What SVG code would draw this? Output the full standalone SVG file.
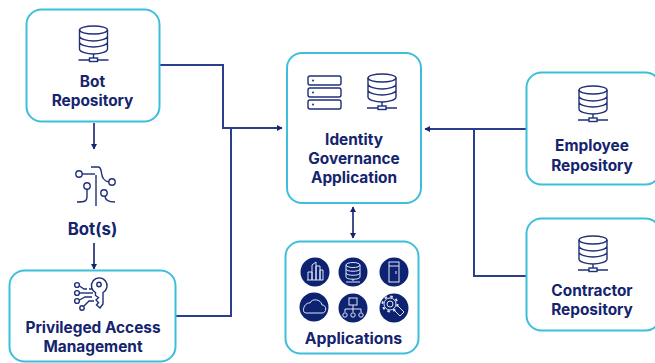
<svg xmlns="http://www.w3.org/2000/svg" xmlns:xlink="http://www.w3.org/1999/xlink" width="655" height="363" viewBox="0 0 655 363">
<style>
.box{fill:#fff;stroke:#3dbfdc;stroke-width:2}
.c{fill:none;stroke:#2c3f8f;stroke-width:2}
.d{fill:none;stroke:#14246e;stroke-width:1.6}
.t{font-family:"Inter","Liberation Sans",sans-serif;font-weight:700;font-size:15.4px;fill:#14246e;text-anchor:middle}
.i{fill:none;stroke:#1f2f78;stroke-width:1.4}
.w{fill:none;stroke:#dfe6f5;stroke-width:1}
.o{fill:#0d2270}
</style>
<defs>
<marker id="a" markerWidth="6" markerHeight="6" refX="5" refY="3" orient="auto-start-reverse" markerUnits="userSpaceOnUse"><path d="M0 0L5.500 3L0 6z" fill="#14246e"/></marker>
<g id="db">
<ellipse cx="0" cy="-13" rx="14" ry="4" class="i"/>
<path class="i" d="M-14-13V6C-14 9-6 11 0 11S14 9 14 6V-13M-14-7C-14-4-6-2 0-2S14-4 14-7M-14-1C-14 2-6 4 0 4S14 2 14-1M0 11V15M-15 17H-4M4 17H15"/>
<rect x="-4" y="15" width="8" height="3.500" class="i"/>
</g>
</defs>
<rect width="655" height="363" fill="#fff"/>
<g id="connectors">
<path class="c" d="M160 65H223V128H282" marker-end="url(#a)"/>
<path class="c" d="M176 316H231V128"/>
<path class="d" d="M94 123V149" marker-end="url(#a)"/>
<path class="d" d="M94 243V269" marker-end="url(#a)"/>
<path class="c" d="M526 129H425" marker-end="url(#a)"/>
<path class="c" d="M474 129V276H526"/>
<path class="d" d="M353 207V238" marker-start="url(#a)" marker-end="url(#a)"/>
</g>
<g id="bot-repo">
<rect class="box" x="26.500" y="9.500" width="133" height="112" rx="15"/>
<use xlink:href="#db" href="#db" x="93.500" y="43"/>
<text class="t" x="92.500" y="87">Bot</text>
<text class="t" x="92.500" y="106">Repository</text>
</g>
<g id="bots">
<g class="i">
<circle cx="79" cy="174" r="3.200"/><path d="M82 174H95"/>
<path d="M91 167H98C101 167 101 170 101.500 173C102 178 104 181 109 182"/>
<circle cx="112" cy="182" r="3.200"/>
<circle cx="87" cy="186" r="3.200"/><path d="M87 189V197C87 201 85 202 77 202"/>
<circle cx="104" cy="193" r="3.200"/><path d="M105 196C105 200 108 202 115 202"/>
<path d="M96 175V206"/>
</g>
<text class="t" x="92.500" y="235" style="font-size:16.800px">Bot(s)</text>
</g>
<g id="pam">
<rect class="box" x="9.500" y="270.500" width="166" height="91" rx="15"/>
<g class="i">
<path d="M95.500 292.500A7.800 7.800 0 1 1 103 292.500V304L100 308L96.500 305L98.500 302.500L96 300L98.500 297.500L95.500 295.500Z"/>
<circle cx="99" cy="284.500" r="2.200"/>
<circle cx="77" cy="285" r="2.400"/><path d="M79.500 286L84 289H87M89 289H92"/>
<circle cx="77" cy="293" r="2.400"/><path d="M79.500 293H93"/>
<circle cx="77" cy="301" r="2.400"/><path d="M79.500 300L85 297H92"/>
<circle cx="82" cy="308" r="2.200"/><path d="M84 306L89 301H94"/>
</g>
<text class="t" x="93" y="333">Privileged Access</text>
<text class="t" x="93" y="352">Management</text>
</g>
<g id="iga">
<rect class="box" x="287" y="53" width="134" height="150" rx="15"/>
<g class="i">
<rect x="308" y="76" width="33" height="9" rx="2"/>
<rect x="308" y="88" width="33" height="9" rx="2"/>
<rect x="308" y="100" width="33" height="9" rx="2"/>
</g>
<circle cx="313" cy="80.500" r="1" fill="#1f2f78"/><circle cx="313" cy="92.500" r="1" fill="#1f2f78"/><circle cx="313" cy="104.500" r="1" fill="#1f2f78"/>
<use xlink:href="#db" href="#db" x="382" y="91"/>
<text class="t" x="354" y="145">Identity</text>
<text class="t" x="354" y="164">Governance</text>
<text class="t" x="354" y="183">Application</text>
</g>
<g id="apps">
<rect class="box" x="285.500" y="241.500" width="133" height="112" rx="15"/>
<circle class="o" cx="315" cy="272" r="14.500"/><circle class="o" cx="353" cy="272" r="14.500"/><circle class="o" cx="394" cy="272" r="14.500"/>
<circle class="o" cx="314" cy="307" r="14.500"/><circle class="o" cx="353" cy="308" r="14.500"/><circle class="o" cx="394" cy="308" r="14.500"/>
<path class="w" d="M308 280V272H312V280M312 280V265L316 262V280M316 280V266H320V280M320 280V270H323V280H307"/>
<g class="w"><ellipse cx="353" cy="265" rx="7" ry="2.500"/><path d="M346 265V277C346 280 360 280 360 277V265M346 269C346 272 360 272 360 269M346 273C346 276 360 276 360 273M353 279V281M346 282H360"/></g>
<g class="w"><rect x="389" y="262" width="10" height="20"/><path d="M396 271V274M389 266H399"/></g>
<path class="w" d="M306 313H322C327 313 327 305 322 305C321 299 312 298 310 303C304 302 301 313 306 313Z"/>
<g class="w"><rect x="349" y="298" width="8" height="7"/><path d="M353 305V309M345 312V309H361V312M353 309V312"/><circle cx="345" cy="315" r="2.200"/><circle cx="353" cy="315" r="2.200"/><circle cx="361" cy="315" r="2.200"/></g>
<g class="w"><circle cx="390" cy="304" r="3"/><circle cx="390" cy="304" r="6"/><circle cx="390" cy="304" r="7.500" stroke-width="2" stroke-dasharray="2.500 3.400"/><path d="M393 309L400 316L404 312L397 305"/></g>
<text class="t" x="353.500" y="344" style="font-size:15.800px">Applications</text>
</g>
<g id="employee">
<rect class="box" x="526.500" y="72.500" width="134" height="112" rx="15"/>
<use xlink:href="#db" href="#db" x="593" y="103"/>
<text class="t" x="592" y="151">Employee</text>
<text class="t" x="592" y="171">Repository</text>
</g>
<g id="contractor">
<rect class="box" x="526.500" y="218.500" width="134" height="112" rx="15"/>
<use xlink:href="#db" href="#db" x="593" y="253"/>
<text class="t" x="592" y="296">Contractor</text>
<text class="t" x="592" y="315">Repository</text>
</g>
</svg>
